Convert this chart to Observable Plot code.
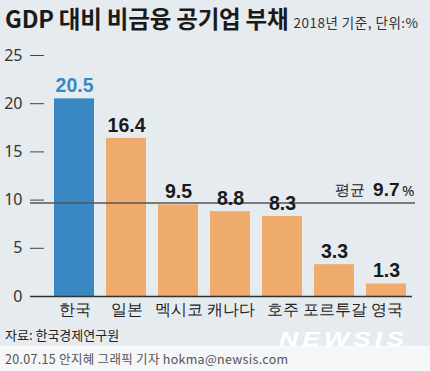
<!DOCTYPE html>
<html><head><meta charset="utf-8">
<script src="https://cdn.jsdelivr.net/npm/d3@7"></script>
<script src="https://cdn.jsdelivr.net/npm/@observablehq/plot@0.6"></script>
<style>
body{margin:0;width:430px;height:371px;background:#e6ebef;position:relative;overflow:hidden;font-family:"Noto Sans CJK KR","Noto Sans",sans-serif;}
#title{position:absolute;left:5px;top:1px;white-space:nowrap;color:#1a1a1a;}
#title .t{font-size:23.5px;font-weight:700;letter-spacing:-0.2px;}
#title .s{font-size:13.5px;color:#333;margin-left:5px;letter-spacing:0.5px;}
#chart{position:absolute;left:0;top:40px;}
#chart svg text.num{letter-spacing:-0.8px;}
#src{position:absolute;left:5px;top:325px;font-size:13px;color:#222;}
#band{position:absolute;left:0;top:346px;width:430px;height:25px;background:#f4f6f8;border-top:1px solid #fbfcfd;}
#credit{position:absolute;left:5px;top:349px;font-size:12.5px;color:#555;white-space:nowrap;letter-spacing:0.3px;}
#wm{position:absolute;left:279px;top:329px;line-height:20px;font-family:"Liberation Sans",Arial,sans-serif;font-size:20px;font-weight:700;font-style:italic;color:#fff;letter-spacing:3px;transform:scaleX(1.33);transform-origin:left center;}
</style></head><body>
<div id="title"><span class="t">GDP 대비 비금융 공기업 부채</span><span class="s">2018년 기준, 단위:%</span></div>
<div id="chart"></div>
<div id="src">자료: 한국경제연구원</div>
<div id="band"></div>
<div id="wm">NEWSIS</div>
<div id="credit">20.07.15 안지혜 그래픽 기자 hokma@newsis.com</div>
<script>
const countries = ["한국","일본","멕시코","캐나다","호주","포르투갈","영국"];
const debt = [20.5,16.4,9.5,8.8,8.3,3.3,1.3];
const yTicks = [0,5,10,15,20,25];
const average = 9.7;
const data = countries.map((c,i)=>({country:c, value:debt[i], korea:c==="한국"}));
const numFont = "'Liberation Sans',Arial,sans-serif";
const chart = Plot.plot({
  width:430, height:285,
  marginLeft:30, marginRight:18, marginTop:15, marginBottom:29,
  style:{background:"transparent", overflow:"visible"},
  x:{domain:countries, paddingInner:0.233, paddingOuter:0.26, align:0.81, axis:null},
  y:{domain:[0,25], axis:null},
  marks:[
    Plot.barY(data,{x:"country", y:"value", fill:d=>d.korea?"#3a88c3":"#eeab6b"}),
    Plot.ruleY(yTicks.filter(d=>d>0),{y:d=>d, stroke:"#444", strokeWidth:1, insetRight:368}),
    Plot.text(yTicks,{x:null, y:d=>d, text:d=>String(d), frameAnchor:"left", textAnchor:"end", dx:-8, fontSize:16, fill:"#333"}),
    Plot.ruleY([0],{stroke:"#333", strokeWidth:1.3}),
    Plot.ruleY([average],{stroke:"#555", strokeWidth:1.3, insetRight:-3}),
    Plot.text(data,{x:"country", y:"value", text:d=>d.value.toFixed(1), dy:-13, fontSize:19.5, fontFamily:numFont, fontWeight:"bold", fill:d=>d.korea?"#3a88c3":"#1a1a1a", className:"num"}),
    Plot.text([average],{y:d=>d, text:d=>"평균", frameAnchor:"right", textAnchor:"end", dx:-48, dy:-13, fontSize:15, fill:"#222"}),
    Plot.text([average],{y:d=>d, text:d=>d.toFixed(1), frameAnchor:"right", textAnchor:"end", dx:-13, dy:-13, fontSize:19, fontFamily:numFont, fontWeight:"bold", fill:"#1a1a1a", className:"num"}),
    Plot.text([average],{y:d=>d, text:d=>"%", frameAnchor:"right", textAnchor:"end", dx:2, dy:-12, fontSize:15, fill:"#1a1a1a"}),
    Plot.axisX({tickSize:0, tickPadding:7, fontSize:16, fill:"#222", label:null})
  ]
});
document.getElementById("chart").appendChild(chart);
</script>
</body></html>
